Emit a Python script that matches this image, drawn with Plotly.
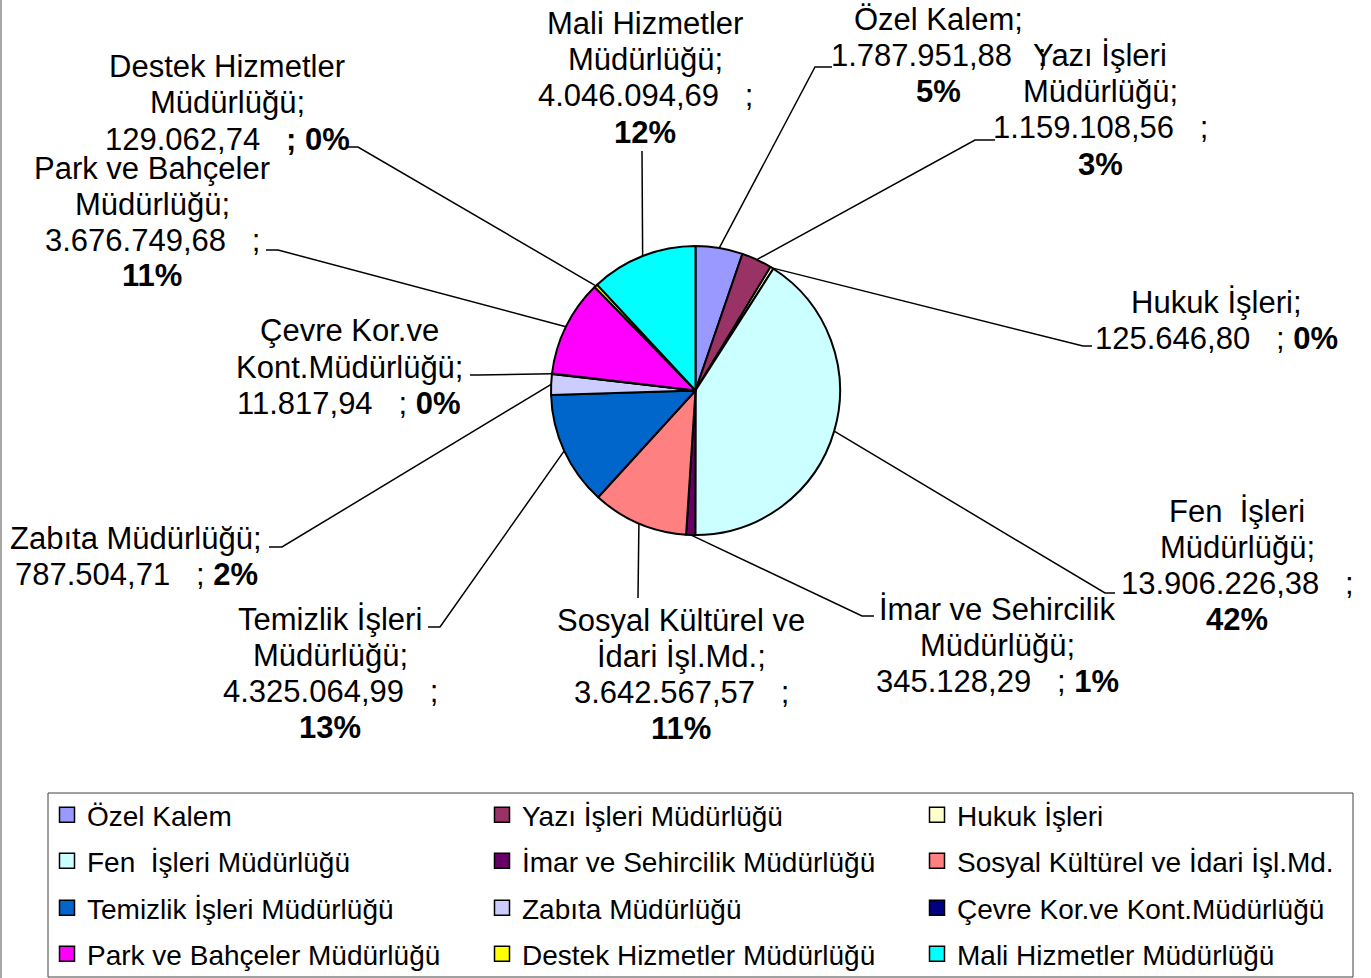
import math
import plotly.graph_objects as go

W, H = 1371, 978

# ---------------- data ----------------
categories = [
    "Özel Kalem", "Yazı İşleri Müdürlüğü", "Hukuk İşleri",
    "Fen  İşleri Müdürlüğü", "İmar ve Sehircilik Müdürlüğü", "Sosyal Kültürel ve İdari İşl.Md.",
    "Temizlik İşleri Müdürlüğü", "Zabıta Müdürlüğü", "Çevre Kor.ve Kont.Müdürlüğü",
    "Park ve Bahçeler Müdürlüğü", "Destek Hizmetler Müdürlüğü", "Mali Hizmetler Müdürlüğü",
]
values = [
    1787951.88, 1159108.56, 125646.80,
    13906226.38, 345128.29, 3642567.57,
    4325064.99, 787504.71, 11817.94,
    3676749.68, 129062.74, 4046094.69,
]
percent_labels = ["5%", "3%", "0%", "42%", "1%", "11%", "13%", "2%", "0%", "11%", "0%", "12%"]

colors = [
    "#9999FF", "#993366", "#FFFFCC",
    "#CCFFFF", "#660066", "#FF8080",
    "#0066CC", "#CCCCFF", "#000080",
    "#FF00FF", "#FFFF00", "#00FFFF",
]

# label text templates (line breaks as in the picture)
label_templates = [
    ["Özel Kalem;", "{v}   ;", "<b>{p}</b>"],
    ["Yazı İşleri", "Müdürlüğü;", "{v}   ;", "<b>{p}</b>"],
    ["Hukuk İşleri;", "{v}   ; <b>{p}</b>"],
    ["Fen  İşleri", "Müdürlüğü;", "{v}   ;", "<b>{p}</b>"],
    ["İmar ve Sehircilik", "Müdürlüğü;", "{v}   ; <b>{p}</b>"],
    ["Sosyal Kültürel ve", "İdari İşl.Md.;", "{v}   ;", "<b>{p}</b>"],
    ["Temizlik İşleri", "Müdürlüğü;", "{v}   ;", "<b>{p}</b>"],
    ["Zabıta Müdürlüğü;", "{v}   ; <b>{p}</b>"],
    ["Çevre Kor.ve", "Kont.Müdürlüğü;", "{v}   ; <b>{p}</b>"],
    ["Park ve Bahçeler", "Müdürlüğü;", "{v}   ;", "<b>{p}</b>"],
    ["Destek Hizmetler", "Müdürlüğü;", "{v}   <b>; {p}</b>"],
    ["Mali Hizmetler", "Müdürlüğü;", "{v}   ;", "<b>{p}</b>"],
]

# ---------------- layout constants (pixels) ----------------
PIE_CX, PIE_CY, PIE_R = 695.5, 390.5, 144.5
LINE_STEP = 36
label_pos = [
    (938, 19), (1100, 56), (1216, 302), (1237, 511), (997, 609), (681, 620),
    (330, 619), (136, 538), (349, 331), (152, 168), (227, 67), (645, 24),
]
leader_pts = [
    [(815, 67), (832, 67)],
    [(975, 140), (995, 140)],
    [(1083, 346), (1092, 346)],
    [(1105, 593), (1115, 593)],
    [(862, 616), (874, 616)],
    [(638, 598)],
    [(440, 627), (428, 627)],
    [(282, 547), (269, 547)],
    [(478, 375), (470, 375)],
    [(278, 250), (266, 250)],
    [(358, 147), (347, 147)],
    [(642, 151)],
]
legend_rows_y = [815, 861, 908, 954]
FONT = "Liberation Sans, Arial, sans-serif"
NB = "\u00a0"


def px(x, y):
    return x / W, 1 - y / H


def tr_fmt(v):
    s = f"{v:,.2f}"
    return s.replace(",", "X").replace(".", ",").replace("X", ".")


fig = go.Figure()

fig.add_trace(go.Pie(
    labels=categories,
    values=values,
    sort=False,
    direction="clockwise",
    rotation=0,
    marker=dict(colors=colors, line=dict(color="black", width=2)),
    textinfo="none",
    showlegend=False,
    domain=dict(x=[(PIE_CX - PIE_R) / W, (PIE_CX + PIE_R) / W],
                y=[1 - (PIE_CY + PIE_R) / H, 1 - (PIE_CY - PIE_R) / H]),
))

# legend entries (3 per row, 4 rows)
legend_names = ["legend", "legend2", "legend3", "legend4"]
for i, (cat, col) in enumerate(zip(categories, colors)):
    fig.add_trace(go.Scatter(
        x=[None], y=[None], mode="markers", name=cat,
        marker=dict(symbol="square", size=15, color=col, line=dict(color="black", width=1.5)),
        legend=legend_names[i // 3], showlegend=True,
    ))

# labels and leader lines
total = sum(values)
cum = 0.0
annotations = []
shapes = []
for i, v in enumerate(values):
    mid = (cum + v / 2) / total
    cum += v
    th = 2 * math.pi * mid
    sx = PIE_CX + PIE_R * math.sin(th)
    sy = PIE_CY - PIE_R * math.cos(th)
    pts = [(sx, sy)] + leader_pts[i]
    path = ""
    for j, (x, y) in enumerate(pts):
        X, Y = px(x, y)
        path += ("M" if j == 0 else "L") + f"{X:.5f},{Y:.5f} "
    shapes.append(dict(type="path", xref="paper", yref="paper", path=path.strip(),
                       line=dict(color="black", width=1.5)))
    lx, ly = label_pos[i]
    for k, tmpl in enumerate(label_templates[i]):
        txt = tmpl.format(v=tr_fmt(v), p=percent_labels[i]).replace(" ", NB)
        X, Y = px(lx, ly + k * LINE_STEP)
        annotations.append(dict(x=X, y=Y, xref="paper", yref="paper", text=txt,
                                showarrow=False, xanchor="center", yanchor="middle",
                                font=dict(family=FONT, size=31, color="black")))

# legend frame and left chart border
x0, y0 = px(48, 793)
x1, y1 = px(1353, 977)
shapes.append(dict(type="rect", xref="paper", yref="paper", x0=x0, y0=y1, x1=x1, y1=y0,
                   line=dict(color="#404040", width=1), fillcolor="rgba(0,0,0,0)"))
shapes.append(dict(type="line", xref="paper", yref="paper", x0=1 / W, x1=1 / W, y0=0, y1=1,
                   line=dict(color="#8a8a8a", width=1.5)))

layout_legends = {}
for r, name in enumerate(legend_names):
    layout_legends[name] = dict(
        orientation="h", x=47 / W, xanchor="left",
        y=1 - legend_rows_y[r] / H, yanchor="middle",
        entrywidth=390, entrywidthmode="pixels",
        font=dict(family=FONT, size=28, color="black"),
        bgcolor="rgba(0,0,0,0)", borderwidth=0, traceorder="normal",
        itemclick=False, itemdoubleclick=False,
    )

fig.update_layout(
    width=W, height=H,
    margin=dict(l=0, r=0, t=0, b=0, autoexpand=False),
    paper_bgcolor="white", plot_bgcolor="white",
    xaxis=dict(visible=False), yaxis=dict(visible=False),
    annotations=annotations, shapes=shapes,
    **layout_legends,
)

fig.write_html(
    "out.html",
    config={"displayModeBar": False},
    post_script="document.body.style.margin='0';document.body.style.overflow='hidden';",
)
